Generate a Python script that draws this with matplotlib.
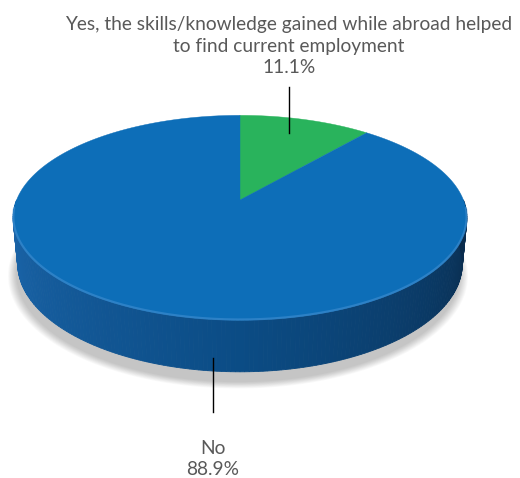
import numpy as np
import matplotlib.pyplot as plt
from matplotlib.patches import Polygon
from matplotlib.colors import to_rgb

labels = ["Yes, the skills/knowledge gained while abroad helped\nto find current employment", "No"]
values = [11.1, 88.9]
colors = ["#29b35c", "#0d6eb8"]

# perspective set-up for the 3d disk
elev = np.radians(26.4)
ce, se = np.cos(elev), np.sin(elev)
D = 5.16
F = 1153.0
H = 0.23
cx, cy = 240.0, 200.0


def proj(t, z=0.0):
    t = np.radians(np.asarray(t, dtype=float))
    x, y = np.cos(t), np.sin(t)
    depth = D + y * ce - z * se
    up = y * se + z * ce
    return cx + F * x / depth, cy - F * up / depth


fig = plt.figure(figsize=(5.2, 4.78), dpi=100)
ax = fig.add_axes([0, 0, 1, 1])
ax.set_xlim(0, 520)
ax.set_ylim(478, 0)
ax.axis("off")

# soft shadow under the disk
ring = np.linspace(0, 360, 200)
for k in range(10):
    grow = 1 + 0.004 * k
    sx, sy = proj(ring, -H - 0.02)
    sx = cx - 2 + (sx - cx) * grow
    sy = cy + 6 + (sy - cy) * grow
    ax.add_patch(Polygon(np.c_[sx, sy], closed=True, fc="#000000", ec="none", alpha=0.022, zorder=1))

# side wall, shaded left to right
c_left = np.array(to_rgb("#1d68ae"))
c_mid = np.array(to_rgb("#0b4c85"))
c_right = np.array(to_rgb("#0a2a4a"))
edges = np.linspace(180, 360, 181)
for a0, a1 in zip(edges[:-1], edges[1:]):
    f = ((a0 + a1) / 2 - 180) / 180
    if f < 0.5:
        col = c_left + (c_mid - c_left) * (f / 0.5)
    else:
        col = c_mid + (c_right - c_mid) * ((f - 0.5) / 0.5)
    tt = np.linspace(a0, a1, 3)
    x0, y0 = proj(tt, 0)
    x1, y1 = proj(tt[::-1], -H)
    ax.add_patch(Polygon(np.c_[np.r_[x0, x1], np.r_[y0, y1]], closed=True,
                         fc=col, ec=col, lw=0.6, zorder=2))

# top faces, clockwise from twelve o'clock
start = 90.0
for v, col in zip(values, colors):
    sweep = 360 * v / sum(values)
    tt = np.linspace(start, start - sweep, 200)
    x, y = proj(tt, 0)
    ax.add_patch(Polygon(np.c_[np.r_[cx, x], np.r_[cy, y]], closed=True,
                         fc=col, ec=col, lw=0.3, zorder=3))
    start -= sweep

# light bevel along the front rim
tt = np.linspace(185, 355, 200)
x, y = proj(tt, -0.01)
ax.plot(x, y - 3, color="#4b95d6", lw=1.6, alpha=0.5, zorder=4, solid_capstyle="round")

# leader lines and labels
ax.plot([289, 289], [87, 133], color="black", lw=1, zorder=5)
ax.text(289, 46, labels[0] + "\n" + f"{values[0]:.1f}%", ha="center", va="center",
        fontsize=13.8, family="Lato", color="#595959", linespacing=1.32)
ax.plot([213, 213], [358, 412], color="black", lw=1, zorder=5)
ax.text(213, 459, labels[1] + "\n" + f"{values[1]:.1f}%", ha="center", va="center",
        fontsize=13.8, family="Lato", color="#595959", linespacing=1.32)

fig.savefig("out.png", dpi=100)
